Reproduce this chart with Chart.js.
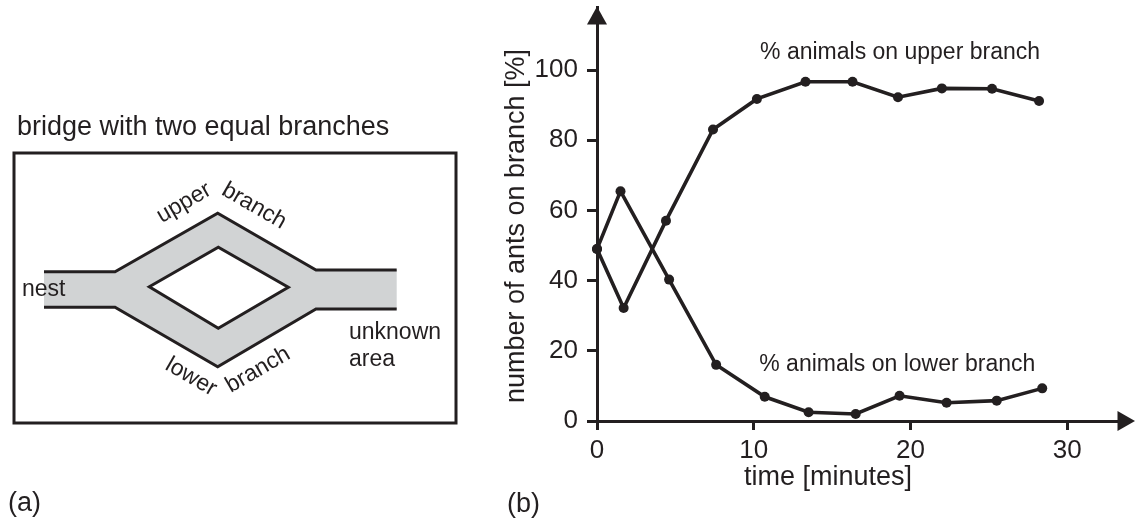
<!DOCTYPE html>
<html>
<head>
<meta charset="utf-8">
<script src="https://cdn.jsdelivr.net/npm/chart.js@4.4.1/dist/chart.umd.min.js"></script>
<style>
  html, body { margin: 0; padding: 0; background: #fff; }
  #wrap { width: 1135px; height: 520px; position: relative; }
</style>
</head>
<body>
<div id="wrap"><canvas id="ants_chart"></canvas></div>
<script>
// time in minutes, share of ants in %
const upperTimes = [0, 1.7, 4.4, 7.4, 10.2, 13.3, 16.3, 19.2, 22.0, 25.2, 28.2];
const upperPct   = [49, 32.2, 57.1, 83.1, 91.8, 96.7, 96.7, 92.3, 94.8, 94.7, 91.2];
const lowerTimes = [0, 1.5, 4.6, 7.6, 10.7, 13.5, 16.5, 19.3, 22.3, 25.5, 28.4];
const lowerPct   = [49, 65.5, 40.3, 16.0, 6.9, 2.5, 2.0, 7.2, 5.2, 5.8, 9.3];

const xTicks = [0, 10, 20, 30];
const yTicks = [0, 20, 40, 60, 80, 100];

const upperLabel = "% animals on upper branch";
const lowerLabel = "% animals on lower branch";

const INK = "#231f20";
const FONT = '"Liberation Sans", Arial, Helvetica, sans-serif';

function text(ctx, str, x, y, size, align, deg) {
    ctx.save();
    ctx.translate(x, y);
    if (deg) ctx.rotate(deg * Math.PI / 180);
    ctx.font = size + "px " + FONT;
    ctx.fillStyle = INK;
    ctx.textAlign = align || "center";
    ctx.textBaseline = "middle";
    ctx.fillText(str, 0, 0);
    ctx.restore();
}

function poly(ctx, pts) {
    ctx.beginPath();
    ctx.moveTo(pts[0][0], pts[0][1]);
    for (let i = 1; i < pts.length; i++) ctx.lineTo(pts[i][0], pts[i][1]);
}

// panel (a): sketch of the bridge, plus arrows / titles / notes of panel (b)
const extras = {
    id: "extras",
    afterDraw(chart) {
        const ctx = chart.ctx;
        const area = chart.chartArea;
        const xs = chart.scales.x, ys = chart.scales.y;

        ctx.save();
        ctx.lineJoin = "miter";
        ctx.lineCap = "butt";

        // --- panel (a)
        text(ctx, "bridge with two equal branches", 17, 128, 27, "left");
        ctx.strokeStyle = INK;
        ctx.lineWidth = 3;
        ctx.strokeRect(14, 153, 442, 270);

        const top = [[44, 271.7], [115, 271.7], [217.7, 213.3], [316, 270], [396.7, 270]];
        const bot = [[44, 307.3], [115, 307.3], [217.7, 366.7], [316, 309], [396.7, 309]];
        poly(ctx, top.concat(bot.slice().reverse()));
        ctx.closePath();
        ctx.fillStyle = "#d1d3d4";
        ctx.fill();

        poly(ctx, [[149.3, 286.7], [218.3, 247.3], [288.3, 287.3], [218.3, 328.3]]);
        ctx.closePath();
        ctx.fillStyle = "#fff";
        ctx.fill();
        ctx.stroke();

        poly(ctx, top); ctx.stroke();
        poly(ctx, bot); ctx.stroke();

        text(ctx, "nest", 22, 290, 23, "left");
        text(ctx, "unknown", 349, 333, 23, "left");
        text(ctx, "area", 349, 360, 23, "left");
        text(ctx, "upper", 184, 203, 23, "center", -30);
        text(ctx, "branch", 254, 206, 23, "center", 30);
        text(ctx, "lower", 191, 377, 23, "center", 30);
        text(ctx, "branch", 258, 370, 23, "center", -30);
        text(ctx, "(a)", 8, 504, 27, "left");

        // --- panel (b)
        ctx.fillStyle = INK;
        const ax = area.left, ay = area.bottom;
        poly(ctx, [[ax, area.top - 0.5], [ax - 10, area.top + 17.5], [ax + 10, area.top + 17.5]]);
        ctx.closePath(); ctx.fill();
        poly(ctx, [[area.right + 5, ay], [area.right - 12.5, ay - 10], [area.right - 12.5, ay + 10]]);
        ctx.closePath(); ctx.fill();

        text(ctx, "number of ants on branch [%]", ax - 80, 226, 27, "center", -90);
        text(ctx, "time [minutes]", 828, 478, 27, "center");
        text(ctx, "(b)", 507, 505, 27, "left");

        text(ctx, upperLabel, xs.getPixelForValue(10.4), ys.getPixelForValue(105), 23, "left");
        text(ctx, lowerLabel, xs.getPixelForValue(10.35), ys.getPixelForValue(16), 23, "left");

        ctx.restore();
    }
};

const ctx = document.getElementById("ants_chart").getContext("2d");

const antsChart = new Chart(ctx, {
    type: "line",
    data: {
        datasets: [{
            label: upperLabel,
            data: upperTimes.map((t, i) => ({ x: t, y: upperPct[i] })),
            borderColor: INK,
            borderWidth: 3.6,
            pointRadius: 5,
            pointBackgroundColor: INK,
            pointBorderWidth: 0,
            tension: 0,
            clip: false
        }, {
            label: lowerLabel,
            data: lowerTimes.map((t, i) => ({ x: t, y: lowerPct[i] })),
            borderColor: INK,
            borderWidth: 3.6,
            pointRadius: 5,
            pointBackgroundColor: INK,
            pointBorderWidth: 0,
            tension: 0,
            clip: false
        }]
    },
    options: {
        responsive: true,
        maintainAspectRatio: false,
        animation: false,
        layout: { padding: { left: 500, top: 7, right: 0, bottom: 0 } },
        plugins: { legend: { display: false }, tooltip: { enabled: false } },
        scales: {
            x: {
                type: "linear",
                min: 0,
                max: 34,
                afterBuildTicks: a => { a.ticks = xTicks.map(v => ({ value: v })); },
                afterFit: a => { a.height = 99; a.paddingLeft = 0; a.paddingRight = 0; },
                grid: { drawOnChartArea: false, drawTicks: true, tickLength: 9, tickWidth: 3, tickColor: INK },
                border: { display: true, width: 3, color: INK },
                ticks: { color: INK, font: { family: FONT, size: 26 }, padding: 5, maxRotation: 0 }
            },
            y: {
                type: "linear",
                min: 0,
                max: 118,
                afterBuildTicks: a => { a.ticks = yTicks.map(v => ({ value: v })); },
                afterFit: a => { a.width = 97; a.paddingTop = 0; a.paddingBottom = 0; },
                grid: { drawOnChartArea: false, drawTicks: true, tickLength: 10, tickWidth: 3, tickColor: INK },
                border: { display: true, width: 3, color: INK },
                ticks: { color: INK, font: { family: FONT, size: 26 }, padding: 9 }
            }
        }
    },
    plugins: [extras]
});
</script>
</body>
</html>
